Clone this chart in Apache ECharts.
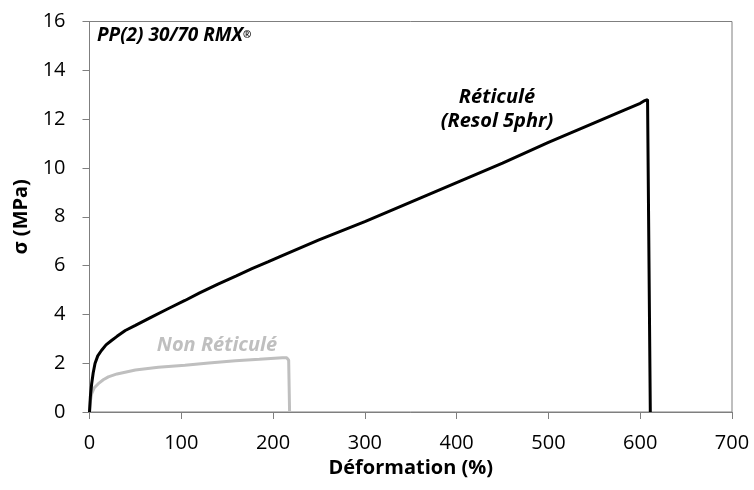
<!DOCTYPE html>
<html><head><meta charset="utf-8">
<script src="https://cdn.jsdelivr.net/npm/echarts@6/dist/echarts.min.js"></script>
<style>html,body{margin:0;padding:0;background:#fff}#c{width:754px;height:490px}</style>
</head><body><div id="c"></div>
<script>
const xTicks = [0,100,200,300,400,500,600,700];
const yTicks = [0,2,4,6,8,10,12,14,16];
const reticuleStrain = [0,1,2.4,4,6,9,13,18,24,30,39,50,68,85,104,120,140,160,177,195,210,250,300,350,400,450,500,550,580,600,605,608,610,611];
const reticuleStress = [0,0.65,1.17,1.6,1.99,2.3,2.52,2.75,2.93,3.1,3.34,3.55,3.9,4.22,4.57,4.88,5.24,5.58,5.87,6.16,6.41,7.05,7.8,8.6,9.4,10.2,11.05,11.85,12.33,12.65,12.76,12.8,12.75,0];
const nonReticuleStrain = [0,1,2.4,5,9.6,15,20.5,30,50,75,104,130,159,185,210,215,217,218];
const nonReticuleStress = [0,0.45,0.75,0.98,1.16,1.32,1.44,1.56,1.72,1.83,1.92,2.01,2.1,2.16,2.22,2.22,2.12,0];
const labelTitle = 'PP(2) 30/70 RMX';
const labelRet1 = 'Réticulé';
const labelRet2 = '(Resol 5phr)';
const labelNonRet = 'Non Réticulé';

const FONT = '"Open Sans", sans-serif';
const chart = echarts.init(document.getElementById('c'));
const zip = (a,b) => a.map((v,i)=>[v,b[i]]);
chart.setOption({
  animation:false,
  grid:{left:89.5,right:22,top:21.5,bottom:78,show:true,borderColor:'#7f7f7f',borderWidth:1},
  xAxis:{type:'value',min:0,max:700,interval:100,
    name:'Déformation (%)',nameLocation:'middle',nameGap:45,
    nameTextStyle:{fontFamily:FONT,fontWeight:'bold',fontSize:20,color:'#000'},
    axisLine:{show:true,lineStyle:{color:'#7f7f7f',width:1}},
    axisTick:{show:true,length:7,lineStyle:{color:'#7f7f7f'}},
    axisLabel:{fontFamily:FONT,fontSize:20,color:'#000',margin:21},
    splitLine:{show:false}},
  yAxis:{type:'value',min:0,max:16,interval:2,
    name:'σ (MPa)',nameLocation:'middle',nameGap:57,
    nameTextStyle:{fontFamily:FONT,fontWeight:'bold',fontSize:20,color:'#000'},
    axisLine:{show:true,lineStyle:{color:'#7f7f7f',width:1}},
    axisTick:{show:true,length:7,lineStyle:{color:'#7f7f7f'}},
    axisLabel:{fontFamily:FONT,fontSize:20,color:'#000',margin:24},
    splitLine:{show:false}},
  series:[
    {type:'line',data:zip(nonReticuleStrain,nonReticuleStress),showSymbol:false,
      lineStyle:{color:'#bfbfbf',width:3},itemStyle:{color:'#bfbfbf'}},
    {type:'line',data:zip(reticuleStrain,reticuleStress),showSymbol:false,
      lineStyle:{color:'#000',width:3},itemStyle:{color:'#000'}}
  ],
  graphic:[
    {type:'text',left:97,top:26,style:{text:labelTitle+'{r|®}',
      rich:{r:{fontSize:10,fontWeight:'bold',verticalAlign:'middle',fontFamily:FONT}},
      font:'italic bold 19px '+FONT,fill:'#000'}},
    {type:'text',x:497,y:97,style:{text:labelRet1,align:'center',verticalAlign:'middle',
      font:'italic bold 20px '+FONT,fill:'#000'}},
    {type:'text',x:497,y:121,style:{text:labelRet2,align:'center',verticalAlign:'middle',
      font:'italic bold 20px '+FONT,fill:'#000'}},
    {type:'text',x:217,y:345,style:{text:labelNonRet,align:'center',verticalAlign:'middle',
      font:'italic bold 20px '+FONT,fill:'#bfbfbf'}}
  ]
});
</script></body></html>
